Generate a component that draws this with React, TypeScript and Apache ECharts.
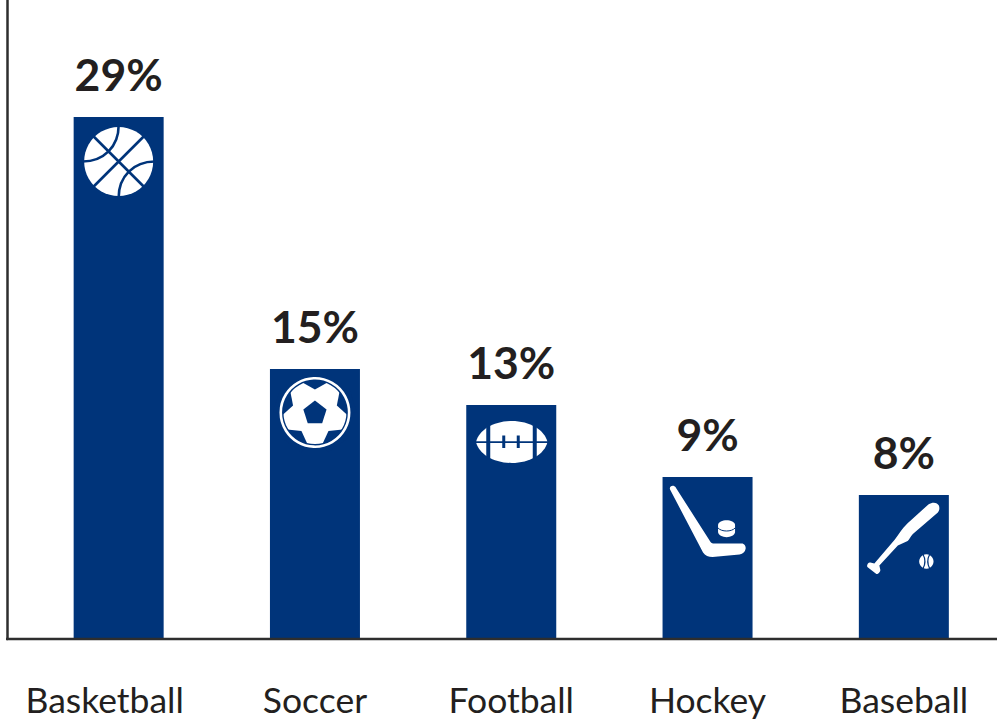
import React, { useEffect, useRef } from "react";
import * as echarts from "echarts";

const categories = ["Basketball", "Soccer", "Football", "Hockey", "Baseball"];
const labelShiftLeft = [28, 0, 0, 0, 0];
const shares = [29, 15, 13, 9, 8];
const icons = ["basketball", "soccer", "football", "hockey", "baseball"];

const NAVY = "#00347a";
const INK = "#231f20";
const AXIS = "#2e2e2e";

const reg = (name: string, d: string) =>
  echarts.graphic.registerShape(name, echarts.graphic.extendPath(d, {}));

reg("bbLines", "M-27,-27L27,27M27,-27L-27,27M0,-36C0,-15,-15,0,-36,0M36,0C15,0,0,15,0,36");
reg("soccerPatch", "M-12.5,-30L0,-23L12.5,-30L12.5,-40L-12.5,-40Z");
reg("soccerCentre", "M0,-12L11.6,-3L7.2,10.8L-7.2,10.8L-11.6,-3Z");
reg(
  "footballBody",
  "M-35.7,0C-33,-12,-18,-21,0,-21C18,-21,33,-12,35.7,0C33,12,18,21,0,21C-18,21,-33,12,-35.7,0Z"
);
reg(
  "hockeyStick",
  "M-37.5,12.5C-38.5,10,-36,8,-33.5,9C-32.5,9.5,-32,10,-31.5,11L3,65C4,66.5,5,66.5,7,66.5L34,66.5C37.5,66.5,38.5,70,38,72C37.5,75,35.5,76.5,32,77.5L5,80C1,80,-2.5,78.5,-4.5,75.5Z"
);
reg(
  "puckBody",
  "M-8.5,0C-8.5,-3,-4,-4.8,0,-4.8C4,-4.8,8.5,-3,8.5,0L8.5,7C8.5,10,4,12.2,0,12.2C-4,12.2,-8.5,10,-8.5,7Z"
);
reg(
  "bat",
  "M24.5,9.5C29,6.5,33.5,7.5,35,10.5C36,13,35.5,15.5,34,17.5L9,39C6.5,41.5,5.5,44.5,3.8,46L-6,50.5L-24.5,70.5L-23.5,75C-23.5,77,-26,79.5,-27.5,79L-36.5,72C-37.5,70,-35.5,67,-33.5,67.5L-29.5,68.5L-9,44.5L-4,37.5C-1.5,34,0.5,31.5,3.5,28.5Z"
);
reg("baseballSeams", "M-3.5,-7.5C-1,-3,-1,3,-3.5,7.5M3.5,-7.5C1,-3,1,3,3.5,7.5");

const line = { stroke: NAVY, fill: "none" };

function iconChildren(kind: string): any[] {
  const white = { fill: "#ffffff" };
  const navyRect = (x: number, y: number, width: number, height: number) => ({
    type: "rect",
    shape: { x, y, width, height },
    style: { fill: NAVY },
  });
  switch (kind) {
    case "basketball":
      return [
        { type: "circle", x: 0, y: 44.5, shape: { cx: 0, cy: 0, r: 34.5 }, style: white },
        { type: "bbLines", x: 0, y: 44.5, style: { ...line, lineWidth: 2.6 } },
      ];
    case "soccer":
      return [
        { type: "circle", x: 0, y: 43.5, shape: { cx: 0, cy: 0, r: 31.5 }, style: white },
        ...[0, 1, 2, 3, 4].map((i) => ({
          type: "soccerPatch",
          x: 0,
          y: 43.5,
          rotation: (-i * 2 * Math.PI) / 5,
          style: { fill: NAVY },
        })),
        { type: "soccerCentre", x: 0, y: 43.5, style: { fill: NAVY } },
        {
          type: "circle",
          x: 0,
          y: 43.5,
          shape: { cx: 0, cy: 0, r: 34.2 },
          style: { fill: "none", stroke: "#ffffff", lineWidth: 2.6 },
        },
      ];
    case "football":
      return [
        { type: "footballBody", x: 0.5, y: 37, style: white },
        navyRect(-25, 15, 4, 44),
        navyRect(21.5, 15, 4, 44),
        navyRect(-37, 36.2, 75, 1.8),
        navyRect(-9, 30.5, 3, 12.5),
        navyRect(5.5, 30.5, 3, 12.5),
      ];
    case "hockey":
      return [
        { type: "hockeyStick", x: 0, y: 0, style: white },
        { type: "puckBody", x: 19, y: 48, style: white },
        {
          type: "bezierCurve",
          x: 19,
          y: 48,
          shape: { x1: -8.5, y1: 3, x2: 8.5, y2: 3, cpx1: -5, cpy1: 7, cpx2: 5, cpy2: 7 },
          style: { stroke: NAVY, fill: "none", lineWidth: 1 },
        },
      ];
    default:
      return [
        { type: "bat", x: 0, y: 0, style: white },
        { type: "circle", x: 22.5, y: 66.5, shape: { cx: 0, cy: 0, r: 7.2 }, style: white },
        { type: "baseballSeams", x: 22.5, y: 66.5, style: { ...line, lineWidth: 1.2 } },
      ];
  }
}

export default function App() {
  const ref = useRef<HTMLDivElement>(null);
  useEffect(() => {
    const chart = echarts.init(ref.current!, undefined, { renderer: "svg" });
    chart.setOption({
      animation: false,
      grid: { left: 20.5, top: 0, width: 983, height: 639, containLabel: false },
      xAxis: {
        type: "category",
        data: categories.map((value, i) => ({
          value,
          textStyle: { padding: [0, labelShiftLeft[i], 0, 0] },
        })),
        axisLine: { show: false },
        axisTick: { show: false },
        axisLabel: {
          color: INK,
          fontFamily: "Lato",
          fontSize: 35.5,
          margin: 42,
          interval: 0,
          hideOverlap: false,
        },
      },
      yAxis: {
        type: "value",
        min: 0,
        max: 35.5,
        offset: 13.5,
        axisLine: { show: true, lineStyle: { color: AXIS, width: 2.5 } },
        axisTick: { show: false },
        axisLabel: { show: false },
        splitLine: { show: false },
      },
      series: [
        {
          type: "bar",
          data: shares,
          barWidth: 90,
          itemStyle: { color: NAVY },
          label: {
            show: true,
            position: "top",
            distance: 21,
            formatter: "{c}%",
            color: INK,
            fontFamily: "Lato",
            fontWeight: 700,
            fontSize: 44.5,
          },
        },
        {
          type: "custom",
          data: shares.map((v, i) => [i, v]),
          encode: { x: 0, y: 1 },
          z: 5,
          silent: true,
          renderItem: (params: any, api: any) => {
            const [x, y] = api.coord([api.value(0), api.value(1)]);
            return {
              type: "group",
              x,
              y,
              children: iconChildren(icons[params.dataIndex]),
            };
          },
        },
      ],
      graphic: [
        {
          type: "line",
          shape: { x1: 6, y1: 639, x2: 997, y2: 639 },
          style: { stroke: AXIS, lineWidth: 2.5 },
          z: 10,
        },
      ],
    });
    return () => chart.dispose();
  }, []);
  return (
    <div
      ref={ref}
      style={{ position: "absolute", left: 0, top: 0, width: 1002, height: 724 }}
    />
  );
}
